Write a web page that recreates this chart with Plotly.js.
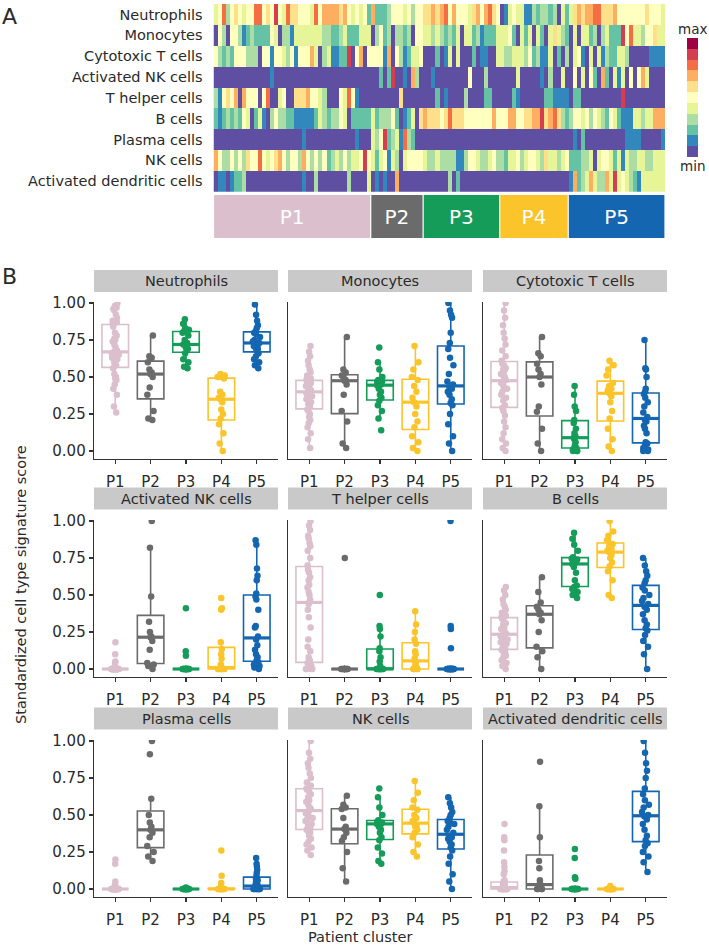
<!DOCTYPE html>
<html><head><meta charset="utf-8">
<script src="https://cdn.plot.ly/plotly-3.0.1.min.js"></script>
<style>html,body{margin:0;padding:0;background:#fff;}#chart{width:709px;height:948px;}</style>
</head><body><div id="chart"></div>
<script>
const cellTypes = ['Neutrophils','Monocytes','Cytotoxic T cells','Activated NK cells','T helper cells','B cells','Plasma cells','NK cells','Activated dendritic cells'];
const clusters = ['P1','P2','P3','P4','P5'];
const clusterSizes = [39,13,19,17,24];
const clusterColors = ['#dbbfcc','#6b6b6b','#159c59','#fbc42b','#1466b1'];
const spectralColors = ['#5e4fa2','#3288bd','#66c2a5','#abdda4','#e6f598','#ffffbf','#fee08b','#fdae61','#f46d43','#d53e4f','#9e0142'];
const yTickVals = [0,0.25,0.5,0.75,1];
const yTickText = ['0.00','0.25','0.50','0.75','1.00'];

// Panel A: heatmap levels (0 = min ... 10 = max), one array per row, 112 patients
const hmNeutrophils = [4,5,8,3,5,6,5,4,5,5,8,8,5,6,5,9,5,4,8,6,6,5,5,5,4,8,5,7,7,7,7,6,7,5,4,5,4, 5,2,7,2,2,2,3,5,5,5,4,5,3,5,5,6,6,7,6,7,8,5,7,5,5,5,4,6,7,5,7,8,6,5,0,1,4, 5,4,4,1,1,3,2,3,3,2,3,0,4,2,4,6,7,6,7,7,8,8,6,6,6,7,5,5,5,5,5,5,5,6,5,5,5,4];
const hmMonocytes = [0,5,3,0,5,5,3,1,2,3,2,2,2,2,5,4,0,3,3,1,4,4,4,4,4,4,4,3,3,2,2,3,4,2,2,2,4, 4,4,0,3,5,2,3,0,3,3,2,3,0,5,5,4,4,3,4,3,2,3,2,4,0,4,4,2,3,1,2,2,2,4,4,4,5, 2,0,4,2,4,0,4,2,0,4,6,4,3,2,0,4,0,4,4,2,3,0,3,4,2,2,2,9,5,8,4,4,3,5,5,6,4,4];
const hmCytotoxicT = [5,3,2,3,2,5,5,5,3,3,3,0,5,5,1,5,5,4,3,5,1,5,5,5,7,4,0,3,4,1,1,2,2,9,0,5,7, 0,5,5,5,5,1,7,0,5,3,1,2,4,4,5,0,0,0,2,0,1,4,0,4,0,0,0,2,0,1,1,0,0,4,4,3,3, 4,4,4,3,5,2,3,1,1,4,0,2,0,3,0,4,5,1,0,4,0,4,1,3,2,2,4,4,3,0,0,0,0,0,1,1,1,1];
const hmActivatedNK = [0,0,0,0,0,0,0,0,0,0,0,0,0,0,1,0,0,0,0,0,0,0,0,0,0,0,0,0,0,0,0,0,0,0,0,0,0, 0,0,0,0,2,0,2,9,0,0,1,0,7,3,0,0,0,1,0,0,0,0,0,0,0,0,5,0,0,0,3,0,0,0,0,0,0, 0,4,0,0,0,0,0,1,0,3,0,0,4,0,0,5,0,4,0,5,2,0,7,2,0,4,1,4,0,5,0,5,7,4,0,0,0,0];
const hmThelper = [3,1,5,6,5,7,0,7,5,5,5,0,5,8,0,0,4,5,0,0,6,6,6,7,5,5,4,3,0,0,0,5,4,8,5,1,0, 0,0,0,0,0,0,0,0,0,6,0,0,0,0,0,0,0,0,2,0,1,0,0,0,0,3,0,0,0,0,2,2,0,0,0,0,0, 2,1,0,0,0,0,0,0,2,2,1,1,1,1,0,2,2,0,0,0,0,0,0,0,0,0,0,9,0,0,0,0,0,0,0,0,0,0];
const hmBcells = [2,1,2,3,2,3,2,5,4,0,2,4,1,0,3,5,3,3,2,2,1,1,1,1,1,2,4,3,2,3,3,5,4,0,2,2,2, 2,2,4,2,3,3,3,5,2,0,1,2,4,0,6,7,6,6,6,5,6,8,6,6,6,5,5,5,5,5,5,5,7,5,5,5,7, 7,5,5,6,6,7,7,9,6,7,8,6,3,2,3,5,5,4,5,3,5,4,3,2,5,4,2,1,1,1,4,4,3,4,4,7,7,7];
const hmPlasma = [0,0,0,0,0,0,0,0,0,0,0,0,0,0,0,0,0,0,0,0,0,0,1,0,0,0,0,0,0,0,0,0,0,0,0,1,0, 0,0,4,3,5,9,2,3,4,1,8,3,2,0,0,0,0,0,0,0,0,0,0,0,0,0,0,0,0,0,0,0,0,0,0,0,0, 0,0,0,0,0,0,0,0,0,0,0,0,0,0,0,1,0,2,0,0,0,0,0,0,0,0,0,0,1,1,1,1,0,0,0,0,0,1];
const hmNK = [7,5,3,3,5,3,5,3,6,5,5,8,5,4,5,6,7,5,3,5,5,3,7,5,3,5,3,5,2,3,4,3,5,3,4,4,5, 9,5,4,2,4,5,1,4,3,0,4,5,5,5,5,4,3,3,4,3,3,3,3,1,1,3,5,5,4,3,3,4,5,3,3,2,4, 4,5,3,4,5,5,4,3,6,4,4,3,4,5,2,2,2,3,3,4,0,4,5,5,4,2,4,1,4,3,3,4,4,3,3,4,4,4];
const hmActDC = [0,1,1,0,1,2,2,3,0,0,0,0,0,0,0,0,0,0,0,0,0,0,1,0,0,3,0,0,0,0,0,0,0,3,0,0,0, 0,4,0,1,0,1,0,0,7,0,0,0,0,0,0,0,0,0,0,0,0,3,0,2,0,0,0,0,0,0,0,0,0,0,0,0,0, 0,0,0,0,0,0,0,0,0,0,0,0,0,0,1,7,2,3,4,7,4,3,3,7,4,9,4,5,4,3,2,1,4,4,4,4,4,4];

// Panel B: standardized scores per facet, one list per cluster P1..P5
const boxNeutrophils = [
 [0.26,0.30,0.38,0.42,0.45,0.48,0.49,0.50,0.52,0.56,0.58,0.60,0.62,0.63,0.64,0.65,0.66,0.66,0.67,0.67,0.68,0.70,0.72,0.74,0.75,0.76,0.78,0.80,0.84,0.86,0.87,0.88,0.90,0.92,0.95,0.96,0.97,0.98,1.00],
 [0.21,0.22,0.27,0.38,0.43,0.50,0.52,0.53,0.55,0.60,0.63,0.64,0.78],
 [0.56,0.57,0.60,0.62,0.66,0.69,0.70,0.71,0.72,0.72,0.73,0.75,0.78,0.80,0.81,0.82,0.83,0.86,0.89],
 [0.00,0.05,0.12,0.18,0.22,0.25,0.28,0.33,0.35,0.36,0.38,0.40,0.49,0.50,0.50,0.51,0.52],
 [0.56,0.58,0.60,0.62,0.64,0.66,0.68,0.69,0.70,0.71,0.72,0.73,0.73,0.74,0.75,0.77,0.79,0.80,0.81,0.83,0.85,0.88,0.92,0.99]];
const boxMonocytes = [
 [0.02,0.08,0.12,0.16,0.19,0.21,0.23,0.25,0.27,0.28,0.30,0.32,0.33,0.35,0.36,0.37,0.38,0.39,0.40,0.40,0.41,0.42,0.43,0.44,0.45,0.45,0.46,0.46,0.47,0.48,0.49,0.51,0.53,0.55,0.58,0.61,0.64,0.67,0.71],
 [0.02,0.05,0.20,0.27,0.38,0.45,0.475,0.48,0.50,0.51,0.53,0.55,0.77],
 [0.14,0.22,0.27,0.31,0.34,0.36,0.38,0.40,0.42,0.445,0.45,0.46,0.47,0.47,0.48,0.50,0.55,0.60,0.70],
 [0.00,0.02,0.06,0.10,0.16,0.20,0.25,0.30,0.33,0.36,0.40,0.44,0.48,0.50,0.55,0.60,0.71],
 [0.00,0.05,0.10,0.18,0.25,0.31,0.325,0.35,0.38,0.40,0.42,0.43,0.45,0.47,0.52,0.58,0.63,0.69,0.73,0.80,0.90,0.92,0.95,1.00]];
const boxCytotoxicT = [
 [0.00,0.02,0.05,0.08,0.12,0.16,0.20,0.24,0.27,0.29,0.31,0.34,0.36,0.38,0.40,0.42,0.44,0.46,0.47,0.475,0.48,0.50,0.51,0.52,0.54,0.55,0.56,0.58,0.59,0.61,0.64,0.68,0.72,0.76,0.80,0.85,0.90,0.95,1.00],
 [0.00,0.05,0.15,0.265,0.30,0.45,0.50,0.52,0.55,0.59,0.64,0.66,0.77],
 [0,0,0,0.01,0.02,0.02,0.04,0.06,0.08,0.09,0.10,0.12,0.15,0.19,0.21,0.27,0.30,0.38,0.44],
 [0.00,0.03,0.08,0.15,0.22,0.27,0.33,0.37,0.39,0.41,0.42,0.44,0.46,0.51,0.55,0.58,0.61],
 [0,0,0.01,0.02,0.04,0.05,0.06,0.12,0.15,0.17,0.20,0.21,0.23,0.26,0.30,0.33,0.36,0.385,0.40,0.42,0.50,0.55,0.56,0.75]];
const boxActivatedNK = [
 [0,0,0,0,0,0,0,0,0,0,0,0,0,0,0,0,0,0,0,0,0,0,0,0,0,0,0,0,0,0,0,0,0,0,0,0.04,0.05,0.10,0.18],
 [0.00,0.02,0.03,0.04,0.13,0.19,0.215,0.22,0.25,0.32,0.49,0.82,1.00],
 [0,0,0,0,0,0,0,0,0,0,0,0,0,0,0,0,0.09,0.12,0.41],
 [0,0,0,0,0,0,0,0,0.01,0.03,0.07,0.10,0.135,0.18,0.40,0.41,0.48],
 [0,0.01,0.02,0.03,0.04,0.045,0.06,0.08,0.10,0.13,0.16,0.20,0.22,0.28,0.29,0.40,0.47,0.49,0.51,0.60,0.63,0.68,0.84,0.87]];
const boxThelper = [
 [0,0,0,0,0.01,0.02,0.03,0.03,0.04,0.04,0.06,0.08,0.12,0.15,0.20,0.28,0.35,0.40,0.44,0.45,0.47,0.50,0.52,0.55,0.57,0.60,0.62,0.65,0.67,0.70,0.75,0.80,0.83,0.85,0.88,0.90,0.94,0.97,1.00],
 [0,0,0,0,0,0,0,0,0,0,0,0,0.75],
 [0,0,0,0,0,0,0,0,0,0,0.02,0.05,0.08,0.12,0.14,0.22,0.27,0.29,0.50],
 [0,0,0,0,0,0.01,0.02,0.04,0.055,0.07,0.10,0.12,0.17,0.20,0.25,0.30,0.39],
 [0,0,0,0,0,0,0,0,0,0,0,0,0,0,0,0,0,0,0,0,0.14,0.27,0.29,1.00]];
const boxBcells = [
 [0.00,0.02,0.04,0.06,0.08,0.09,0.10,0.11,0.12,0.13,0.14,0.15,0.17,0.18,0.19,0.20,0.21,0.22,0.23,0.235,0.24,0.25,0.26,0.27,0.28,0.30,0.31,0.32,0.34,0.35,0.36,0.38,0.40,0.42,0.44,0.47,0.50,0.53,0.555],
 [0.00,0.08,0.12,0.15,0.25,0.33,0.37,0.38,0.40,0.42,0.45,0.52,0.62],
 [0.48,0.50,0.52,0.54,0.555,0.565,0.60,0.65,0.69,0.71,0.72,0.73,0.74,0.745,0.755,0.80,0.84,0.88,0.92],
 [0.48,0.50,0.60,0.66,0.695,0.72,0.75,0.77,0.79,0.80,0.81,0.83,0.845,0.87,0.90,0.93,1.00],
 [0.00,0.10,0.15,0.19,0.23,0.26,0.275,0.30,0.33,0.37,0.40,0.42,0.44,0.46,0.48,0.50,0.53,0.55,0.58,0.60,0.63,0.66,0.70,0.75]];
const boxPlasma = [
 [0,0,0,0,0,0,0,0,0,0,0,0,0,0,0,0,0,0,0,0,0,0,0,0,0,0,0,0,0,0,0,0,0,0,0.02,0.03,0.05,0.17,0.20],
 [0.19,0.22,0.25,0.29,0.35,0.38,0.40,0.42,0.45,0.50,0.61,0.91,1.00],
 [0,0,0,0,0,0,0,0,0,0,0,0,0,0,0,0,0,0,0.01],
 [0,0,0,0,0,0,0,0,0,0,0,0,0,0.02,0.04,0.09,0.26],
 [0,0,0,0,0,0,0,0,0.005,0.01,0.01,0.015,0.025,0.03,0.05,0.06,0.07,0.07,0.09,0.11,0.13,0.15,0.17,0.21]];
const boxNK = [
 [0.23,0.26,0.28,0.30,0.32,0.34,0.36,0.38,0.39,0.40,0.41,0.43,0.44,0.46,0.47,0.48,0.50,0.51,0.52,0.53,0.54,0.55,0.57,0.59,0.60,0.62,0.64,0.66,0.67,0.68,0.70,0.72,0.75,0.78,0.82,0.85,0.88,0.92,1.00],
 [0.05,0.14,0.25,0.325,0.35,0.38,0.405,0.42,0.48,0.54,0.55,0.57,0.63],
 [0.17,0.19,0.24,0.28,0.33,0.35,0.38,0.40,0.42,0.44,0.44,0.45,0.45,0.455,0.465,0.50,0.55,0.62,0.68],
 [0.22,0.25,0.30,0.35,0.38,0.40,0.42,0.43,0.445,0.46,0.48,0.50,0.535,0.55,0.60,0.65,0.73],
 [0.00,0.05,0.10,0.17,0.22,0.26,0.28,0.30,0.32,0.34,0.35,0.36,0.38,0.40,0.42,0.44,0.45,0.46,0.48,0.50,0.52,0.55,0.58,0.62]];
const boxActDC = [
 [0,0,0,0,0,0,0,0,0,0,0,0,0,0,0,0,0,0,0,0.01,0.01,0.02,0.02,0.03,0.03,0.035,0.04,0.04,0.04,0.05,0.06,0.10,0.12,0.15,0.18,0.26,0.33,0.35,0.44],
 [0,0,0,0,0.02,0.03,0.03,0.06,0.14,0.19,0.35,0.56,0.86],
 [0,0,0,0,0,0,0,0,0,0,0,0,0,0,0,0.07,0.08,0.21,0.27],
 [0,0,0,0,0,0,0,0,0,0,0,0,0,0,0,0,0.02],
 [0.115,0.18,0.22,0.25,0.29,0.31,0.33,0.36,0.40,0.44,0.47,0.49,0.50,0.52,0.55,0.57,0.60,0.64,0.68,0.75,0.80,0.85,0.92,1.00]];

// ---------- build figure ----------
const W = 709, H = 948;
const px = v => v / W, py = v => 1 - v / H;
const FONT = 'DejaVu Sans, Verdana, sans-serif';
const TXT = '#2a2a2a';
const AX = '#333333';

const heatRows = [hmNeutrophils,hmMonocytes,hmCytotoxicT,hmActivatedNK,hmThelper,hmBcells,hmPlasma,hmNK,hmActDC];
const nCols = heatRows[0].length;
const colIdx = heatRows[0].map((_, i) => i);
const rowIdx = cellTypes.map((_, i) => i);

const cs = [];
spectralColors.forEach((c, k) => {
  cs.push([k / spectralColors.length, c]);
  cs.push([(k + 1) / spectralColors.length, c]);
});

const traces = [];
traces.push({
  type: 'heatmap', x: colIdx, y: rowIdx, z: heatRows,
  zmin: -0.5, zmax: spectralColors.length - 0.5, colorscale: cs,
  xaxis: 'x', yaxis: 'y', hoverinfo: 'skip',
  colorbar: {x: px(687), xanchor: 'left', xpad: 0, y: py(38), yanchor: 'top', ypad: 0,
    lenmode: 'pixels', len: 119, thicknessmode: 'pixels', thickness: 11,
    outlinewidth: 0, showticklabels: false, ticks: '', title: {text: ''}}
});

// cluster bar under heatmap
let start = 0;
clusterSizes.forEach((n, i) => {
  traces.push({
    type: 'bar', x: [start + (n - 1) / 2], y: [1], width: [n - 0.3],
    marker: {color: clusterColors[i], line: {width: 0}},
    text: [clusters[i]], textposition: 'inside', insidetextanchor: 'middle',
    constraintext: 'none',
    textfont: {color: '#ffffff', size: 20, family: FONT},
    xaxis: 'x', yaxis: 'y2', hoverinfo: 'skip', showlegend: false
  });
  start += n;
});

const facetData = [boxNeutrophils,boxMonocytes,boxCytotoxicT,boxActivatedNK,boxThelper,boxBcells,boxPlasma,boxNK,boxActDC];
const colDom = [[94,278],[288,472],[483,667]];
const rowDom = [[302,459],[520,677],[740,897]];
const stripY = [[270,292],[487.5,509.5],[707.5,729.5]];

const layout = {
  width: W, height: H, margin: {l: 0, r: 0, t: 0, b: 0},
  paper_bgcolor: '#ffffff', plot_bgcolor: 'rgba(0,0,0,0)',
  showlegend: false, barmode: 'overlay',
  font: {family: FONT, color: TXT, size: 14},
  xaxis: {domain: [px(213.5), px(665)], range: [-0.5, nCols - 0.5], visible: false, anchor: 'y', fixedrange: true},
  yaxis: {domain: [py(191.7), py(4)], range: [cellTypes.length - 0.5, -0.5], tickvals: rowIdx, ticktext: cellTypes,
    tickfont: {size: 14.5, color: TXT, family: FONT}, showgrid: false, zeroline: false, showline: false,
    ticks: 'outside', ticklen: 7, tickcolor: 'rgba(0,0,0,0)', anchor: 'x'},
  yaxis2: {domain: [py(238), py(195)], range: [0, 1], visible: false, anchor: 'x'},
  shapes: [], annotations: []
};

function median(arr) {
  const s = arr.slice().sort((a, b) => a - b);
  const m = (s.length - 1) / 2;
  return (s[Math.floor(m)] + s[Math.ceil(m)]) / 2;
}

facetData.forEach((groups, f) => {
  const col = f % 3, row = Math.floor(f / 3);
  const n = f + 3;
  const xa = 'x' + n, ya = 'y' + n;
  layout['xaxis' + n] = {
    domain: [px(colDom[col][0]), px(colDom[col][1])], anchor: ya, range: [-0.6, 4.6],
    tickvals: [0,1,2,3,4], ticktext: clusters, ticks: 'outside', ticklen: 4, tickwidth: 1.2, tickcolor: AX,
    ticklabelstandoff: 5,
    showline: true, linecolor: AX, linewidth: 1.3, showgrid: false, zeroline: false,
    tickfont: {size: 15, color: TXT, family: FONT}
  };
  layout['yaxis' + n] = {
    domain: [py(rowDom[row][1]), py(rowDom[row][0])], anchor: xa, range: [-0.054, 1.007],
    tickvals: yTickVals, ticktext: yTickText, showticklabels: col === 0,
    ticks: col === 0 ? 'outside' : '', ticklen: 4, tickwidth: 1.2, tickcolor: AX,
    showline: true, linecolor: AX, linewidth: 1.3, showgrid: false, zeroline: false,
    tickfont: {size: 15, color: TXT, family: FONT}
  };
  layout.shapes.push({type: 'rect', xref: 'paper', yref: 'paper',
    x0: px(colDom[col][0]), x1: px(colDom[col][1]), y0: py(stripY[row][1]), y1: py(stripY[row][0]),
    fillcolor: '#c9c9c9', line: {width: 0}, layer: 'below'});
  layout.annotations.push({xref: 'paper', yref: 'paper', x: px((colDom[col][0] + colDom[col][1]) / 2),
    y: py((stripY[row][0] + stripY[row][1]) / 2), text: cellTypes[f], showarrow: false,
    xanchor: 'center', yanchor: 'middle', font: {size: 14.5, color: TXT, family: FONT}});

  groups.forEach((vals, g) => {
    traces.push({
      type: 'box', x: vals.map(() => g), y: vals, xaxis: xa, yaxis: ya,
      width: 0.75, boxpoints: 'all', jitter: 0.3, pointpos: 0, whiskerwidth: 0,
      fillcolor: 'rgba(255,255,255,0)', line: {color: clusterColors[g], width: 1.6},
      marker: {color: clusterColors[g], size: 6.5, opacity: 1},
      hoverinfo: 'skip', showlegend: false
    });
    const m = median(vals);
    traces.push({
      type: 'scatter', mode: 'lines', x: [g - 0.375, g + 0.375], y: [m, m], xaxis: xa, yaxis: ya,
      line: {color: clusterColors[g], width: 3.2}, hoverinfo: 'skip', showlegend: false, cliponaxis: false
    });
  });
});

function note(x, y, text, size, extra) {
  return Object.assign({xref: 'paper', yref: 'paper', x: px(x), y: py(y), text: text, showarrow: false,
    xanchor: 'center', yanchor: 'middle', font: {size: size, color: TXT, family: FONT}}, extra || {});
}
layout.annotations.push(
  note(9, 16, 'A', 22),
  note(9, 277, 'B', 22),
  note(692.5, 29, 'max', 13.5),
  note(692.5, 166, 'min', 13.5),
  note(21, 585, 'Standardized cell type signature score', 14.5, {textangle: -90}),
  note(360, 937, 'Patient cluster', 14.5)
);

Plotly.newPlot('chart', traces, layout, {staticPlot: true, displayModeBar: false});
</script>
</body></html>
